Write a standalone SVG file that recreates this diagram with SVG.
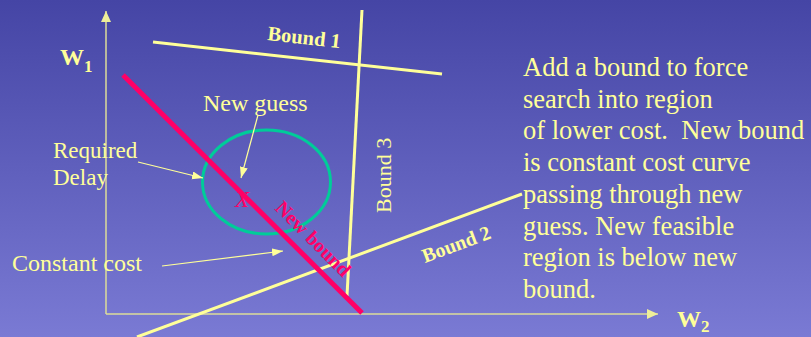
<svg xmlns="http://www.w3.org/2000/svg" width="811" height="337" viewBox="0 0 811 337">
<defs>
<linearGradient id="bg" x1="0" y1="0" x2="0" y2="1">
<stop offset="0" stop-color="#4545A5"/>
<stop offset="1" stop-color="#7A7AD4"/>
</linearGradient>
<marker id="axhead" markerUnits="userSpaceOnUse" markerWidth="12" markerHeight="11" refX="11" refY="5" orient="auto">
<path d="M0,0 L11,5 L0,10 z" fill="#EEEE99"/>
</marker>
<marker id="head" markerUnits="userSpaceOnUse" markerWidth="12" markerHeight="9" refX="11" refY="4" orient="auto">
<path d="M0,0 L11,4 L0,8 z" fill="#FFFF99"/>
</marker>
<style>
.lbl{font-family:"Liberation Serif","Times New Roman",serif;fill:#FFFF99}
.bold{font-weight:bold}
.axis{stroke:#DDDD99;stroke-width:1.5;fill:none}
.bound{stroke:#FFFF99;stroke-width:3;fill:none}
.ptr{stroke:#FFFF99;stroke-width:1.2;fill:none}
</style>
</defs>
<rect x="0" y="0" width="811" height="337" fill="url(#bg)"/>

<g id="axes">
<line class="axis" x1="106" y1="314" x2="106" y2="11" marker-end="url(#axhead)"/>
<line class="axis" x1="106" y1="314" x2="658" y2="314" marker-end="url(#axhead)"/>
<text class="lbl bold" x="60" y="65" font-size="24">W<tspan font-size="17" dy="7">1</tspan></text>
<text class="lbl bold" x="677" y="327" font-size="24">W<tspan font-size="17" dy="5">2</tspan></text>
</g>

<g id="bound1">
<line class="bound" x1="153" y1="42" x2="442" y2="74"/>
<text class="lbl bold" font-size="20.5" transform="translate(267,40) rotate(6.3)">Bound 1</text>
</g>

<g id="bound3">
<line class="bound" x1="362" y1="10" x2="347" y2="296"/>
<text class="lbl" font-size="22" transform="translate(391,213) rotate(-90)">Bound 3</text>
</g>

<g id="bound2">
<line class="bound" x1="137" y1="337" x2="522" y2="194" stroke-width="2.2"/>
<text class="lbl bold" font-size="20" transform="translate(425,263) rotate(-20.4)">Bound 2</text>
</g>

<g id="guess-region">
<ellipse cx="266.5" cy="182" rx="64" ry="52" fill="none" stroke="#00CC99" stroke-width="3"/>
</g>

<g id="new-bound">
<line x1="123" y1="75" x2="362" y2="313" stroke="#FF0066" stroke-width="5"/>
<text font-family="Liberation Serif, Times New Roman, serif" font-weight="bold" font-size="20" fill="#FF0066" transform="translate(274,209) rotate(45)">New bound</text>
<text font-family="Liberation Serif, Times New Roman, serif" font-style="italic" font-size="23" fill="#FF0066" x="235" y="207">X</text>
</g>

<g id="labels">
<text class="lbl" x="203" y="111" font-size="24">New guess</text>
<text class="lbl" x="53" y="158" font-size="23">Required</text>
<text class="lbl" x="53" y="185" font-size="23">Delay</text>
<text class="lbl" x="12" y="271" font-size="24">Constant cost</text>
</g>

<g id="connectors">
<line class="ptr" x1="258" y1="115" x2="241" y2="178" marker-end="url(#head)"/>
<line class="ptr" x1="138" y1="162" x2="203" y2="178" marker-end="url(#head)"/>
<line class="ptr" x1="162" y1="266" x2="283" y2="251" marker-end="url(#head)"/>
</g>

<g id="note">
<text class="lbl" font-size="26.5">
<tspan x="523" y="76">Add a bound to force</tspan>
<tspan x="523" y="107.7">search into region</tspan>
<tspan x="523" y="139.4" xml:space="preserve">of lower cost.  New bound</tspan>
<tspan x="523" y="171.1">is constant cost curve</tspan>
<tspan x="523" y="202.8">passing through new</tspan>
<tspan x="523" y="234.5">guess. New feasible</tspan>
<tspan x="523" y="266.2">region is below new</tspan>
<tspan x="523" y="297.9">bound.</tspan>
</text>
</g>
</svg>
